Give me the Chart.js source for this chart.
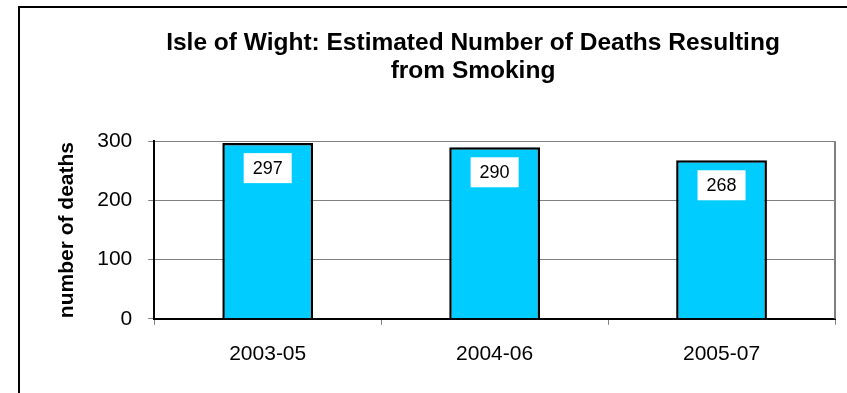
<!DOCTYPE html>
<html>
<head>
<meta charset="utf-8">
<script src="https://cdn.jsdelivr.net/npm/chart.js@4"></script>
<style>
  html, body { margin: 0; padding: 0; background: #fff; overflow: hidden; }
  #wrap { position: relative; width: 847px; height: 393px; overflow: hidden; }
  #frame { position: absolute; left: 18px; top: 6px; width: 1200px; height: 1200px; border: 2px solid #000; box-sizing: border-box; }
  canvas { position: absolute; left: 0; top: 0; }
</style>
</head>
<body>
<div id="wrap">
  <div id="frame"></div>
  <canvas id="c" width="847" height="393"></canvas>
</div>
<script>
const categories = ['2003-05', '2004-06', '2005-07'];
const deaths = [297, 290, 268];
const yTicks = [0, 100, 200, 300];
const titleLines = ['Isle of Wight: Estimated Number of Deaths Resulting', 'from Smoking'];
const yTitle = 'number of deaths';

const FONT = "'Liberation Sans', Arial, sans-serif";
const GRID = '#808080';

const titleShift = {
  id: 'titleShift',
  afterLayout(chart) {
    const t = chart.titleBlock;
    if (t) { t.left = 0; t.right = 946; }
  }
};

const plotBorder = {
  id: 'plotBorder',
  beforeDatasetsDraw(chart) {
    const a = chart.chartArea, ctx = chart.ctx;
    ctx.save();
    ctx.strokeStyle = GRID;
    ctx.lineWidth = 2;
    ctx.beginPath();
    ctx.moveTo(a.right, a.top);
    ctx.lineTo(a.right, a.bottom);
    ctx.stroke();
    ctx.restore();
  }
};

const boxLabels = {
  id: 'boxLabels',
  afterDatasetsDraw(chart) {
    const ctx = chart.ctx;
    const meta = chart.getDatasetMeta(0);
    ctx.save();
    ctx.font = '18px ' + FONT;
    meta.data.forEach((bar, i) => {
      const p = bar.getProps(['x', 'y'], true);
      const txt = String(chart.data.datasets[0].data[i]);
      const w = ctx.measureText(txt).width + 18;
      const h = 30;
      const top = p.y + 10;
      ctx.fillStyle = '#fff';
      ctx.fillRect(p.x - w / 2, top, w, h);
      ctx.fillStyle = '#000';
      ctx.textAlign = 'center';
      ctx.textBaseline = 'middle';
      ctx.fillText(txt, p.x, top + h / 2 + 1);
    });
    ctx.restore();
  }
};

new Chart(document.getElementById('c'), {
  type: 'bar',
  data: {
    labels: categories,
    datasets: [{
      data: deaths,
      backgroundColor: '#00CCFF',
      borderColor: '#000',
      borderWidth: 2.5,
      barPercentage: 0.4,
      categoryPercentage: 1.0
    }]
  },
  options: {
    responsive: false,
    animation: false,
    layout: { padding: { left: 55, right: 12, top: 0, bottom: 9 } },
    plugins: {
      legend: { display: false },
      tooltip: { enabled: false },
      title: {
        display: true,
        text: titleLines,
        color: '#000',
        font: { family: FONT, size: 24.5, weight: 'bold', lineHeight: 1.15 },
        padding: { top: 29, bottom: 56 }
      }
    },
    scales: {
      x: {
        grid: { display: true, drawOnChartArea: false, drawTicks: true, tickLength: 6, color: GRID, tickColor: GRID, offset: true },
        border: { display: true, color: '#000', width: 2 },
        ticks: { color: '#000', font: { family: FONT, size: 21 }, padding: 17, maxRotation: 0 }
      },
      y: {
        min: 0,
        max: 300,
        afterBuildTicks(axis) { axis.ticks = yTicks.map(v => ({ value: v })); },
        grid: { color: GRID, tickColor: GRID, tickLength: 6, lineWidth: 1 },
        border: { display: true, color: '#000', width: 2 },
        ticks: { color: '#000', font: { family: FONT, size: 21 }, padding: 16 },
        title: {
          display: true,
          text: yTitle,
          color: '#000',
          font: { family: FONT, size: 21, weight: 'bold' },
          padding: { top: 0, bottom: 1 }
        }
      }
    }
  },
  plugins: [titleShift, plotBorder, boxLabels]
});
</script>
</body>
</html>
